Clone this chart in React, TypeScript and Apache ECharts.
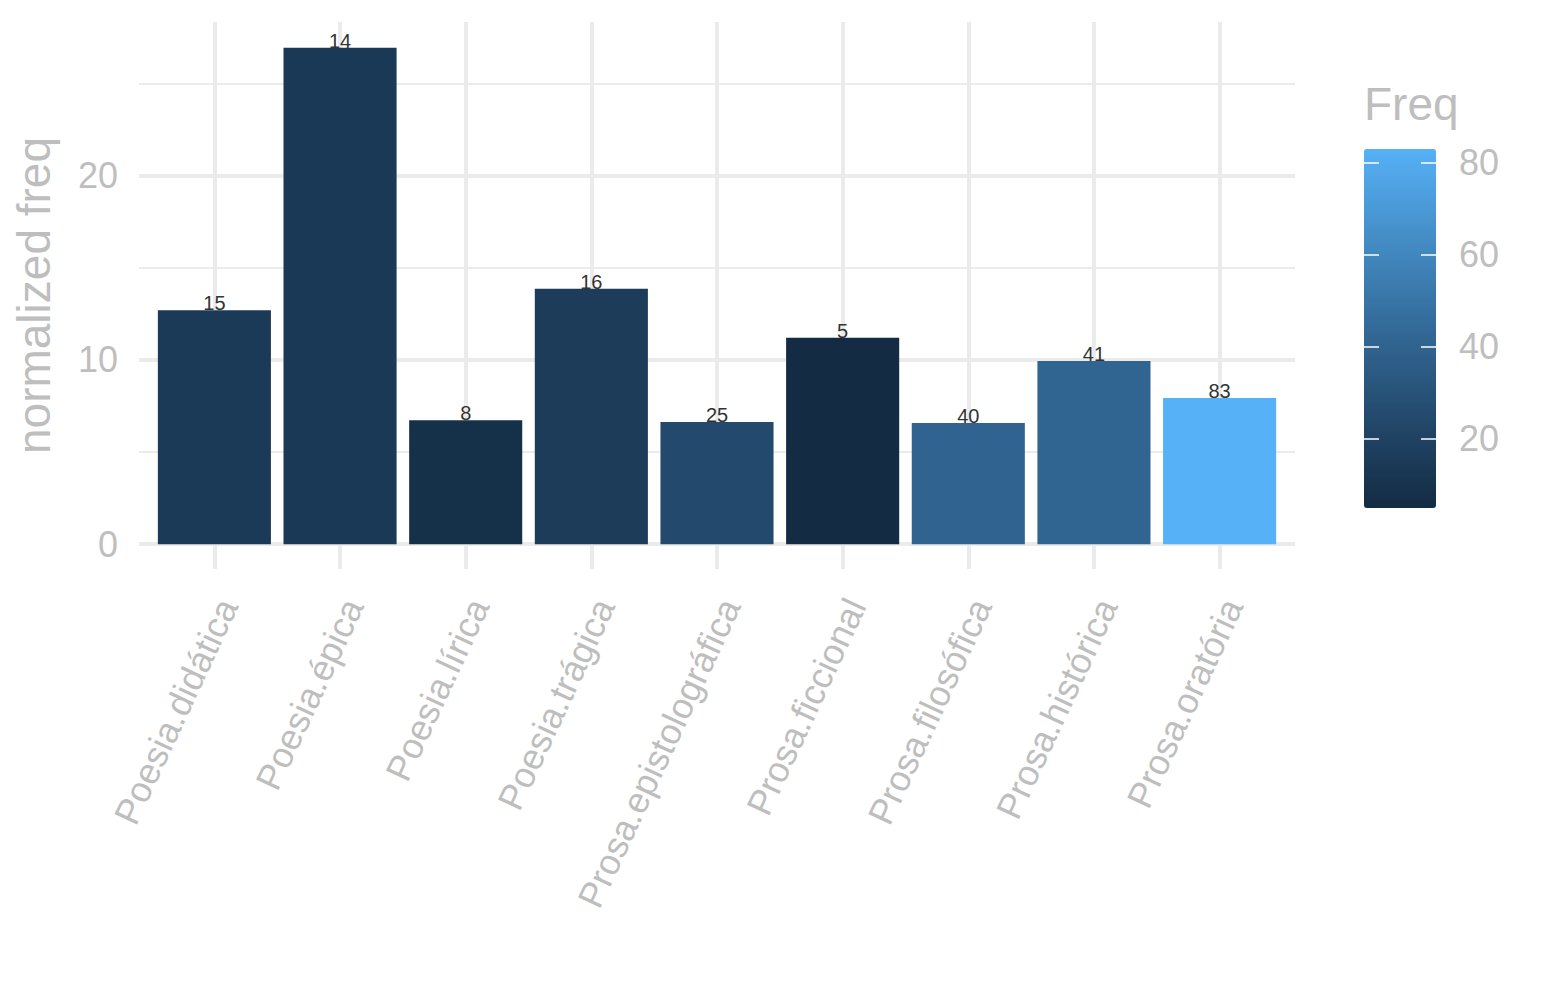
import React, { useEffect, useRef } from 'react';
import * as echarts from 'echarts';

// ---- data ----
const categories = [
  'Poesia.didática',
  'Poesia.épica',
  'Poesia.lírica',
  'Poesia.trágica',
  'Prosa.epistolográfica',
  'Prosa.ficcional',
  'Prosa.filosófica',
  'Prosa.histórica',
  'Prosa.oratória',
];
const normalizedFreq = [12.7, 26.95, 6.72, 13.86, 6.63, 11.2, 6.58, 9.95, 7.93];
const freq = [15, 14, 8, 16, 25, 5, 40, 41, 83];
const freqRange = [5, 83];
const colorStops = ['#132B43', '#23496C', '#336A98', '#448DC6', '#56B1F7'];

// ---- layout ----
const PANEL = { left: 139, right: 1295, top: 22, bottom: 569 };
const Y_MIN = -1.35;
const Y_MAX = 28.35;
const CB = { left: 1364, top: 149, width: 72, height: 359 };

export default function App() {
  const ref = useRef<HTMLDivElement>(null);

  useEffect(() => {
    const chart = echarts.init(ref.current as HTMLDivElement, null, { renderer: 'svg' });
    const gray = '#BEBEBE';
    const gridColor = '#EBEBEB';
    const band = (PANEL.right - PANEL.left) / 9.2;
    const panelH = PANEL.bottom - PANEL.top;
    const pxPerY = panelH / (Y_MAX - Y_MIN);
    const yZeroPx = PANEL.bottom + Y_MIN * pxPerY;
    const pxPerF = CB.height / (freqRange[1] - freqRange[0]);
    const cbZeroPx = CB.top + CB.height + freqRange[0] * pxPerF;

    chart.setOption({
      animation: false,
      textStyle: { fontFamily: 'Liberation Sans, Arial, sans-serif' },
      title: {
        text: 'Freq',
        left: CB.left,
        top: 81,
        padding: 0,
        textStyle: { fontSize: 46, fontWeight: 'normal', color: gray },
      },
      grid: [
        {
          left: PANEL.left,
          top: yZeroPx - 30 * pxPerY,
          width: PANEL.right - PANEL.left,
          height: 30 * pxPerY,
          outerBoundsMode: 'none',
        },
        {
          left: PANEL.left + 0.1 * band,
          top: PANEL.top,
          width: 9 * band,
          height: panelH,
          outerBoundsMode: 'none',
        },
        {
          left: PANEL.left + 0.6 * band,
          top: PANEL.top,
          width: 8 * band,
          height: panelH,
          outerBoundsMode: 'none',
        },
        {
          left: CB.left,
          top: cbZeroPx - 100 * pxPerF,
          width: CB.width,
          height: 100 * pxPerF,
          outerBoundsMode: 'none',
        },
      ],
      xAxis: [
        { gridIndex: 0, type: 'value', min: 0, max: 1, show: false },
        {
          gridIndex: 1,
          type: 'category',
          data: categories,
          axisLine: { show: false },
          axisTick: { show: false },
          splitLine: { show: false },
          axisLabel: {
            interval: 0,
            rotate: 65,
            color: gray,
            fontSize: 36,
            margin: 8,
            align: 'right',
            verticalAlign: 'top',
            padding: [4, 16, 0, 0],
          },
        },
        {
          gridIndex: 2,
          type: 'value',
          min: 0,
          max: 8,
          interval: 1,
          axisLine: { show: false },
          axisTick: { show: false },
          axisLabel: { show: false },
          splitLine: { show: true, lineStyle: { color: gridColor, width: 4 } },
        },
        { gridIndex: 3, type: 'value', min: 0, max: 1, show: false },
      ],
      yAxis: [
        {
          gridIndex: 0,
          type: 'value',
          min: 0,
          max: 30,
          interval: 10,
          axisLine: { show: false },
          axisTick: { show: false },
          axisLabel: { color: gray, fontSize: 36, margin: 21, showMaxLabel: false },
          splitLine: { show: true, lineStyle: { color: gridColor, width: 4 } },
          minorTick: { show: false, splitNumber: 2 },
          minorSplitLine: { show: true, lineStyle: { color: gridColor, width: 2 } },
        },
        {
          gridIndex: 1,
          type: 'value',
          min: Y_MIN,
          max: Y_MAX,
          axisLine: { show: false },
          axisTick: { show: false },
          axisLabel: { show: false },
          splitLine: { show: false },
          name: 'normalized freq',
          nameLocation: 'middle',
          nameGap: 95,
          nameTextStyle: { color: gray, fontSize: 46 },
        },
        { gridIndex: 2, type: 'value', show: false },
        {
          gridIndex: 3,
          type: 'value',
          position: 'left',
          min: 0,
          max: 100,
          interval: 20,
          z: 10,
          axisLine: { show: false },
          axisTick: { show: true, inside: true, length: 15, lineStyle: { color: '#ffffff', width: 1.5 } },
          axisLabel: { show: false },
          splitLine: { show: false },
        },
        {
          gridIndex: 3,
          type: 'value',
          position: 'right',
          min: 0,
          max: 100,
          interval: 20,
          z: 10,
          axisLine: { show: false },
          axisTick: { show: true, inside: true, length: 15, lineStyle: { color: '#ffffff', width: 1.5 } },
          axisLabel: { show: true, color: gray, fontSize: 36, margin: 23, showMinLabel: false, showMaxLabel: false },
          splitLine: { show: false },
        },
      ],
      visualMap: {
        type: 'continuous',
        min: freqRange[0],
        max: freqRange[1],
        dimension: 2,
        seriesIndex: 0,
        calculable: false,
        orient: 'vertical',
        left: CB.left - 15,
        top: CB.top - 15,
        itemWidth: CB.width,
        itemHeight: CB.height,
        inRange: { color: colorStops },
        textStyle: { color: gray },
      },
      series: [
        {
          type: 'bar',
          xAxisIndex: 1,
          yAxisIndex: 1,
          barWidth: '90%',
          z: 2,
          data: categories.map((c, i) => [c, normalizedFreq[i], freq[i]]),
          encode: { x: 0, y: 1 },
          label: {
            show: true,
            position: 'top',
            distance: -3,
            fontSize: 20,
            color: '#333333',
            formatter: (p: any) => String(p.value[2]),
          },
        },
      ],
    });

    return () => chart.dispose();
  }, []);

  return (
    <div
      ref={ref}
      style={{ position: 'absolute', left: 0, top: 0, width: 1545, height: 1000, background: '#ffffff' }}
    />
  );
}
